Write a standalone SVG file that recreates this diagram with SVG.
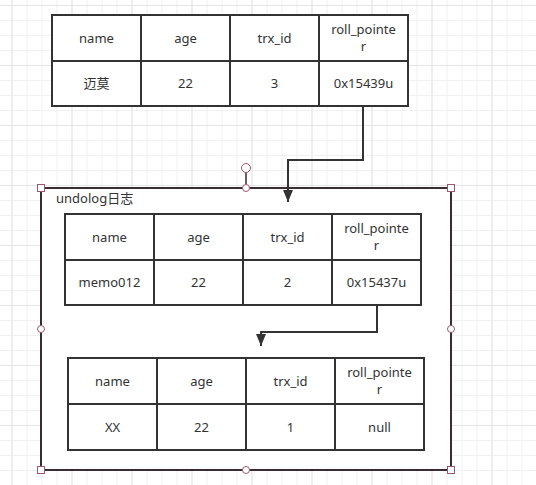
<svg xmlns="http://www.w3.org/2000/svg" width="536" height="485" viewBox="0 0 536 485">
<defs>
<pattern id="minor" width="15" height="15" patternUnits="userSpaceOnUse" x="11.5" y="5">
<path d="M0.5 0V15M0 0.5H15" stroke="#f1f1f1" stroke-width="1" fill="none"/>
</pattern>
<pattern id="major" width="60" height="60" patternUnits="userSpaceOnUse" x="11.5" y="5">
<path d="M0.5 0V60M0 0.5H60" stroke="#e4e4e4" stroke-width="1" fill="none"/>
</pattern>
<marker id="arrow" viewBox="0 0 12 10" refX="12" refY="5" markerWidth="12" markerHeight="10" markerUnits="userSpaceOnUse" orient="auto">
<path d="M0 0L12 5L0 10Z" fill="#333"/>
</marker>
</defs>
<style>
.cell{fill:#fff;stroke:#333;stroke-width:2}
.t{font-family:"Noto Sans","Noto Sans CJK SC",sans-serif;font-size:13px;fill:#333;text-anchor:middle}
.lbl{font-family:"Noto Sans","Noto Sans CJK SC",sans-serif;font-size:13px;fill:#333}
.conn{fill:none;stroke:#333;stroke-width:2}
.h{fill:#fff;stroke:#9a5a6e;stroke-width:1}
</style>
<rect width="536" height="485" fill="#fff"/>
<rect width="536" height="485" fill="url(#minor)"/>
<rect width="536" height="485" fill="url(#major)"/>

<g id="container">
<rect x="41" y="188" width="410" height="282" fill="#fff" stroke="#3a2c31" stroke-width="2"/>
<text class="lbl" x="56" y="203">undolog日志</text>
</g>

<g id="table-current">
<rect class="cell" x="52" y="15" width="89" height="46"/>
<rect class="cell" x="141" y="15" width="89" height="46"/>
<rect class="cell" x="230" y="15" width="89" height="46"/>
<rect class="cell" x="319" y="15" width="89" height="46"/>
<rect class="cell" x="52" y="61" width="89" height="45"/>
<rect class="cell" x="141" y="61" width="89" height="45"/>
<rect class="cell" x="230" y="61" width="89" height="45"/>
<rect class="cell" x="319" y="61" width="89" height="45"/>
<text class="t" x="96.5" y="43">name</text>
<text class="t" x="185.5" y="43">age</text>
<text class="t" x="274.5" y="43">trx_id</text>
<text class="t" x="363.5" y="33.5">roll_pointe</text>
<text class="t" x="363.5" y="50.5">r</text>
<text class="t" x="96.5" y="88">迈莫</text>
<text class="t" x="185.5" y="88">22</text>
<text class="t" x="274.5" y="88">3</text>
<text class="t" x="363.5" y="88">0x15439u</text>
</g>

<g id="table-undo1">
<rect class="cell" x="65" y="214" width="89" height="46"/>
<rect class="cell" x="154" y="214" width="89" height="46"/>
<rect class="cell" x="243" y="214" width="89" height="46"/>
<rect class="cell" x="332" y="214" width="89" height="46"/>
<rect class="cell" x="65" y="260" width="89" height="45"/>
<rect class="cell" x="154" y="260" width="89" height="45"/>
<rect class="cell" x="243" y="260" width="89" height="45"/>
<rect class="cell" x="332" y="260" width="89" height="45"/>
<text class="t" x="109.5" y="242">name</text>
<text class="t" x="198.5" y="242">age</text>
<text class="t" x="287.5" y="242">trx_id</text>
<text class="t" x="376.5" y="232.5">roll_pointe</text>
<text class="t" x="376.5" y="249.5">r</text>
<text class="t" x="109.5" y="287">memo012</text>
<text class="t" x="198.5" y="287">22</text>
<text class="t" x="287.5" y="287">2</text>
<text class="t" x="376.5" y="287">0x15437u</text>
</g>

<g id="table-undo2">
<rect class="cell" x="68" y="358" width="89" height="46"/>
<rect class="cell" x="157" y="358" width="89" height="46"/>
<rect class="cell" x="246" y="358" width="89" height="46"/>
<rect class="cell" x="335" y="358" width="89" height="46"/>
<rect class="cell" x="68" y="404" width="89" height="46"/>
<rect class="cell" x="157" y="404" width="89" height="46"/>
<rect class="cell" x="246" y="404" width="89" height="46"/>
<rect class="cell" x="335" y="404" width="89" height="46"/>
<text class="t" x="112.5" y="386">name</text>
<text class="t" x="201.5" y="386">age</text>
<text class="t" x="290.5" y="386">trx_id</text>
<text class="t" x="379.5" y="376.5">roll_pointe</text>
<text class="t" x="379.5" y="393.5">r</text>
<text class="t" x="112.5" y="432">XX</text>
<text class="t" x="201.5" y="432">22</text>
<text class="t" x="290.5" y="432">1</text>
<text class="t" x="379.5" y="432">null</text>
</g>

<g id="connectors">
<path class="conn" d="M363 106V160H288V202" marker-end="url(#arrow)"/>
<path class="conn" d="M377 305V332H261V346" marker-end="url(#arrow)"/>
</g>

<g id="handles">
<line x1="246" y1="168" x2="246" y2="188" stroke="#3a2c31" stroke-width="1.5"/>
<circle class="h" cx="246" cy="168" r="4.5"/>
<circle class="h" cx="246" cy="188" r="3.5"/>
<circle class="h" cx="41" cy="329" r="3.5"/>
<circle class="h" cx="451" cy="329" r="3.5"/>
<circle class="h" cx="246" cy="470" r="3.5"/>
<rect class="h" x="37.5" y="184.5" width="7" height="7"/>
<rect class="h" x="447.5" y="184.5" width="7" height="7"/>
<rect class="h" x="37.5" y="466.5" width="7" height="7"/>
<rect class="h" x="447.5" y="466.5" width="7" height="7"/>
</g>
</svg>
